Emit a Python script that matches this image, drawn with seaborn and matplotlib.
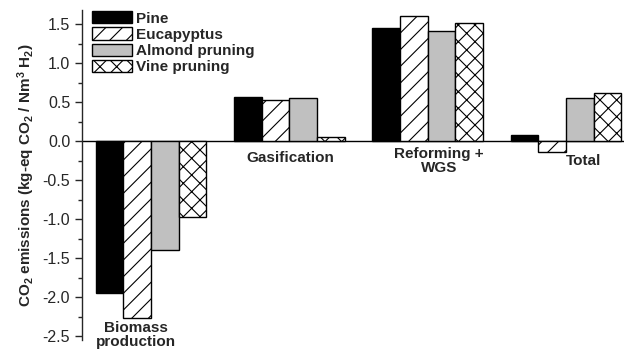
import matplotlib
matplotlib.use("Agg")
import matplotlib.pyplot as plt
import seaborn as sns
import pandas as pd
from matplotlib.ticker import MultipleLocator, AutoMinorLocator

# data
stages = ["Biomass production", "Gasification", "Reforming + WGS", "Total"]
biomass_types = ["Pine", "Eucapyptus", "Almond pruning", "Vine pruning"]
pine = [-1.95, 0.57, 1.45, 0.08]
eucalyptus = [-2.27, 0.53, 1.60, -0.14]
almond = [-1.39, 0.56, 1.41, 0.56]
vine = [-0.97, 0.05, 1.52, 0.62]

stage_labels = ["Biomass\nproduction", "Gasification", "Reforming +\nWGS", "Total"]

rows = []
for name, vals in zip(biomass_types, [pine, eucalyptus, almond, vine]):
    for st, v in zip(stages, vals):
        rows.append({"stage": st, "biomass": name, "co2": v})
df = pd.DataFrame(rows)

sns.set_style("ticks")
plt.rcParams['font.family'] = ['Liberation Sans', 'DejaVu Sans']
plt.rcParams['mathtext.fontset'] = 'custom'
plt.rcParams['mathtext.rm'] = 'Liberation Sans:bold'
plt.rcParams['mathtext.default'] = 'rm'
plt.rcParams['hatch.linewidth'] = 0.8
plt.rcParams['axes.unicode_minus'] = False

fig = plt.figure(figsize=(6.28, 3.51), dpi=100)
ax = fig.add_axes([0.1306, 0.031, 0.863, 0.94])

colors = ["black", "white", "#c0c0c0", "white"]
hatches = ["", "//", "", "xx"]

sns.barplot(data=df, x="stage", y="co2", hue="biomass", order=stages,
            hue_order=biomass_types, palette=colors, width=0.8,
            edgecolor="black", linewidth=1, saturation=1, ax=ax, legend=False)

for cont, h in zip(ax.containers, hatches):
    for p in cont.patches:
        p.set_hatch(h)
        p.set_edgecolor("black")

ax.axhline(0, color="black", lw=1, zorder=0.5)

ax.set_xlim(-0.5, 3.42)
ax.set_ylim(-2.55, 1.68)
ax.yaxis.set_major_locator(MultipleLocator(0.5))
ax.yaxis.set_minor_locator(AutoMinorLocator(2))
ax.tick_params(axis='y', which='major', length=5, width=1, labelsize=11.5, direction='out')
ax.tick_params(axis='y', which='minor', length=3, width=1, direction='out')
ax.set_xticks([])
ax.set_xlabel("")
ax.set_ylabel("CO$_2$ emissions (kg-eq CO$_2$ / Nm$^3$ H$_2$)",
              fontsize=11, fontweight='bold', labelpad=4)

for side in ["top", "right", "bottom"]:
    ax.spines[side].set_visible(False)
ax.spines["left"].set_linewidth(1)

# stage names inside the plot area
label_pos = [(-0.11, -2.30), (0.01, -0.12), (0.08, -0.08), (0.13, -0.17)]
for i, (lab, (dx, y)) in enumerate(zip(stage_labels, label_pos)):
    ax.text(i + dx, y, lab, ha="center", va="top", fontsize=11,
            fontweight="bold", linespacing=1.0, clip_on=False)

leg = ax.legend(ax.containers, biomass_types, loc="upper left",
                bbox_to_anchor=(0.0, 1.027), frameon=False,
                prop={'weight': 'bold', 'size': 11},
                handlelength=2.6, handleheight=0.85, handletextpad=0.3,
                labelspacing=0.12, borderaxespad=0.25)

fig.savefig("out.png", dpi=100)
